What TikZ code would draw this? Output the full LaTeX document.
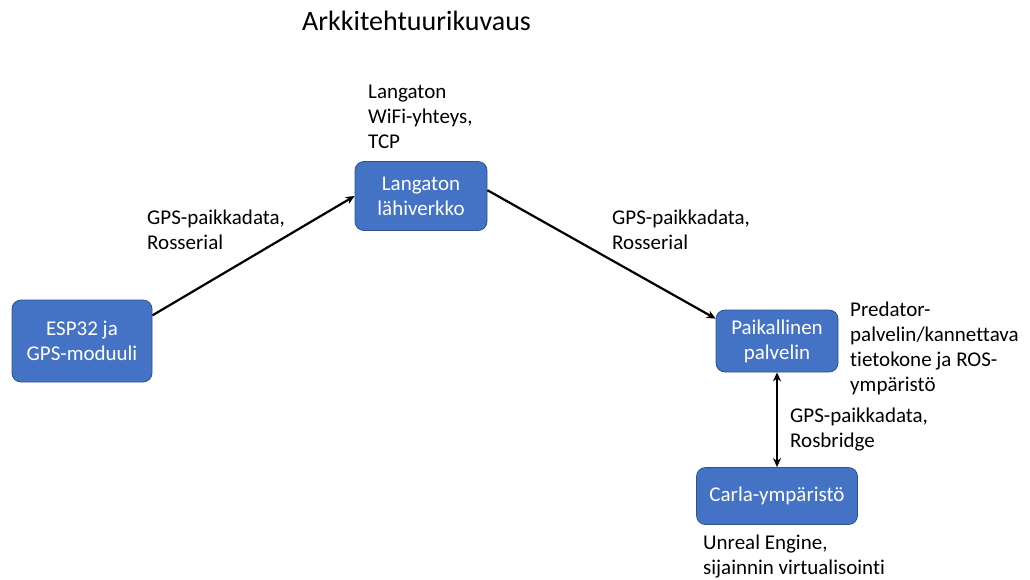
\documentclass[tikz,border=0pt]{standalone}
\usepackage{fontspec}
\setmainfont{Carlito}[Ligatures=NoCommon]
\usetikzlibrary{arrows.meta}
\definecolor{boxblue}{RGB}{68,114,196}
\definecolor{boxedge}{RGB}{47,82,143}
\tikzset{
  blok/.style={draw=boxedge, fill=boxblue, line width=0.8pt, rounded corners=9pt,
    text=white, align=center, font=\fontsize{21}{25}\selectfont},
  selite/.style={anchor=base west, align=left, inner sep=0pt,
    font=\fontsize{21}{25}\selectfont},
  nuoli/.style={line width=2.2pt, -{Stealth[length=9pt,width=8pt]}},
}
\begin{document}
\begin{tikzpicture}[x=1pt,y=-1pt]
\useasboundingbox (0,0) rectangle (1030,579);

% otsikko
\node[selite, font=\fontsize{28}{30}\selectfont] (otsikko) at (302,30) {Arkkitehtuurikuvaus};

% laatikot
\node[blok, minimum width=140pt, minimum height=82pt] (esp) at (82,341) {ESP32 ja\\GPS-moduuli};
\node[blok, minimum width=132pt, minimum height=69pt] (lan) at (421,196) {Langaton\\lähiverkko};
\node[blok, minimum width=122pt, minimum height=62pt] (pai) at (777,341) {Paikallinen\\palvelin};
\node[blok, minimum width=161pt, minimum height=57pt] (carla) at (777,496) {Carla-ympäristö};

% yhteydet
\draw[nuoli] (esp.20) -- (lan.west);
\draw[nuoli] (lan.5) -- (pai.160);
\draw[nuoli, {Stealth[length=9pt,width=8pt]}-{Stealth[length=9pt,width=8pt]}] (pai.south) -- (carla.north);

% selitteet (base = viimeisen rivin perusviiva)
\node[selite] (wifi) at (368,148) {Langaton\\WiFi-yhteys,\\TCP};
\node[selite] (gps1) at (147,249) {GPS-paikkadata,\\Rosserial};
\node[selite] (gps2) at (612,249) {GPS-paikkadata,\\Rosserial};
\node[selite] (pred) at (850,391) {Predator-\\palvelin/kannettava\\tietokone ja ROS-\\ympäristö};
\node[selite] (gps3) at (790,447) {GPS-paikkadata,\\Rosbridge};
\node[selite] (unreal) at (703,574) {Unreal Engine,\\sijainnin virtualisointi};
\end{tikzpicture}
\end{document}
